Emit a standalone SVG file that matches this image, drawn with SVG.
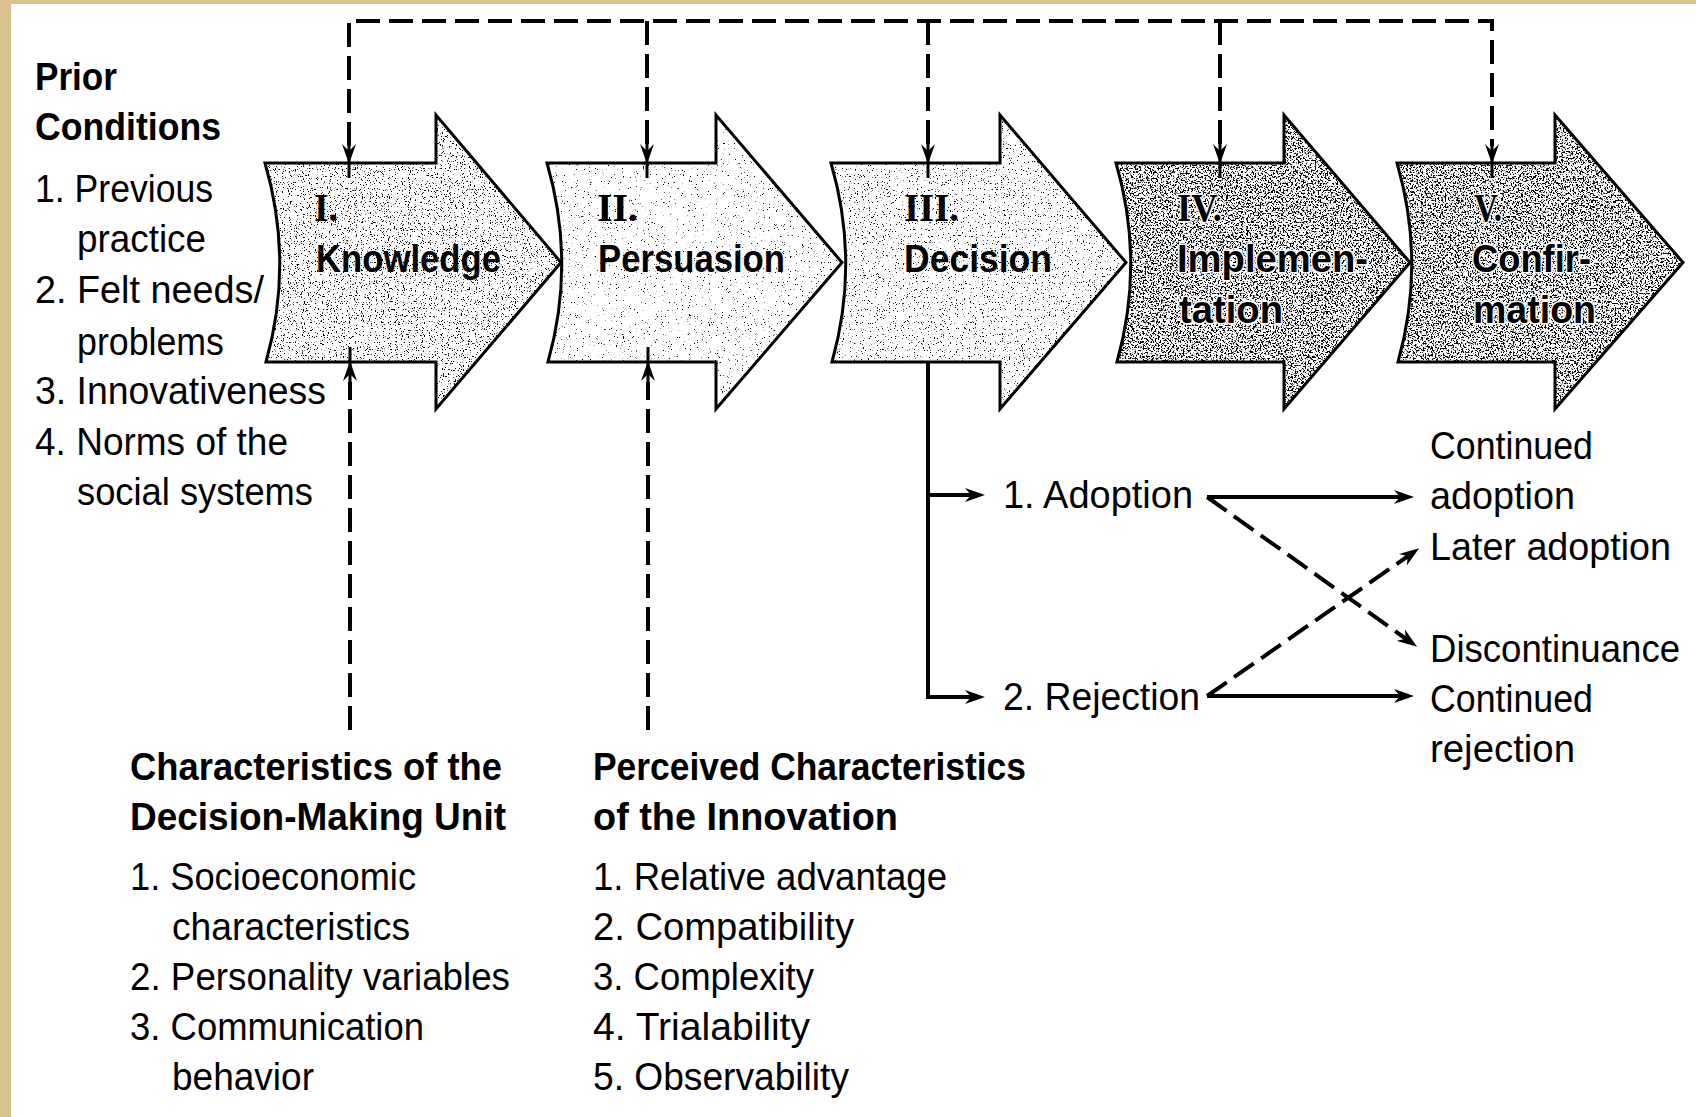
<svg xmlns="http://www.w3.org/2000/svg" xmlns:xlink="http://www.w3.org/1999/xlink" width="1696" height="1117" viewBox="0 0 1696 1117">
  <style>
    .t { font-family: "Liberation Sans", Arial, sans-serif; font-size: 38px; fill: #000; }
    .b { font-family: "Liberation Sans", Arial, sans-serif; font-size: 39px; font-weight: bold; fill: #000; }
    .num { font-family: "Liberation Serif", "Times New Roman", serif; font-size: 40px; font-weight: bold; fill: #000; }
    .halo { stroke: #fff; stroke-width: 3px; paint-order: stroke; stroke-linejoin: round; }
    .outline { fill: none; stroke: #000; stroke-width: 3; stroke-linejoin: miter; }
    .base { fill: #fff; stroke: none; }
    .dash { fill: none; stroke: #000; stroke-width: 4; stroke-dasharray: 24 9; }
    .solid { fill: none; stroke: #000; stroke-width: 4; }
    .stub { fill: none; stroke: #000; stroke-width: 3; }
  </style>
  <defs>
    <!-- barbed arrowhead for horizontal and diagonal connectors -->
    <marker id="head" viewBox="0 0 20 14" refX="10" refY="7" markerWidth="20" markerHeight="14" markerUnits="userSpaceOnUse" orient="auto">
      <path d="M0,0 L20,7 L0,14 L6,7 Z" fill="#000"/>
    </marker>
    <!-- vertical arrowheads, tip at the origin -->
    <path id="headDown" d="M-7,-20 L0,0 L7,-20 L0,-13 Z" fill="#000"/>
    <path id="headUp" d="M-7,20 L0,0 L7,20 L0,13 Z" fill="#000"/>

    <!-- stipple textures for the stage arrows -->
    <filter id="stippleA" color-interpolation-filters="sRGB">
      <feTurbulence type="fractalNoise" baseFrequency="0.85" numOctaves="2" seed="4" result="n"/>
      <feColorMatrix in="n" type="matrix" values="0 0 0 0 0  0 0 0 0 0  0 0 0 0 0  14 0 0 0 -8.7" result="d"/>
      <feComposite in="d" in2="SourceGraphic" operator="in" result="c"/>
      <feMerge><feMergeNode in="SourceGraphic"/><feMergeNode in="c"/></feMerge>
    </filter>
    <filter id="stippleB" color-interpolation-filters="sRGB">
      <feTurbulence type="fractalNoise" baseFrequency="0.85" numOctaves="2" seed="9" result="n"/>
      <feColorMatrix in="n" type="matrix" values="0 0 0 0 0  0 0 0 0 0  0 0 0 0 0  14 0 0 0 -9.7" result="d"/>
      <feComposite in="d" in2="SourceGraphic" operator="in" result="c"/>
      <feMerge><feMergeNode in="SourceGraphic"/><feMergeNode in="c"/></feMerge>
    </filter>
    <filter id="stippleC" color-interpolation-filters="sRGB">
      <feTurbulence type="fractalNoise" baseFrequency="0.85" numOctaves="2" seed="13" result="n"/>
      <feColorMatrix in="n" type="matrix" values="0 0 0 0 0  0 0 0 0 0  0 0 0 0 0  14 0 0 0 -9.2" result="d"/>
      <feComposite in="d" in2="SourceGraphic" operator="in" result="c"/>
      <feMerge><feMergeNode in="SourceGraphic"/><feMergeNode in="c"/></feMerge>
    </filter>
    <filter id="stippleDark" color-interpolation-filters="sRGB">
      <feTurbulence type="fractalNoise" baseFrequency="0.6" numOctaves="2" seed="21" result="n"/>
      <feColorMatrix in="n" type="matrix" values="0 0 0 0 0  0 0 0 0 0  0 0 0 0 0  12 0 0 0 -6.2" result="d"/>
      <feComposite in="d" in2="SourceGraphic" operator="in" result="c"/>
      <feMerge><feMergeNode in="SourceGraphic"/><feMergeNode in="c"/></feMerge>
    </filter>
  </defs>

  <!-- page with tan frame on top and left -->
  <rect x="0" y="0" width="1696" height="1117" fill="#fff"/>
  <rect x="0" y="0" width="1696" height="4" fill="#D9C190"/>
  <rect x="0" y="0" width="11" height="1117" fill="#D9C190"/>

  <!-- prior conditions -->
  <g id="prior-conditions">
    <text class="b" x="35" y="90" textLength="82" lengthAdjust="spacingAndGlyphs">Prior</text>
    <text class="b" x="35" y="140" textLength="186" lengthAdjust="spacingAndGlyphs">Conditions</text>
    <text class="t" x="35" y="202" textLength="178" lengthAdjust="spacingAndGlyphs">1. Previous</text>
    <text class="t" x="77" y="252" textLength="129" lengthAdjust="spacingAndGlyphs">practice</text>
    <text class="t" x="35" y="303" textLength="229" lengthAdjust="spacingAndGlyphs">2. Felt needs/</text>
    <text class="t" x="77" y="355" textLength="147" lengthAdjust="spacingAndGlyphs">problems</text>
    <text class="t" x="35" y="404" textLength="291" lengthAdjust="spacingAndGlyphs">3. Innovativeness</text>
    <text class="t" x="35" y="455" textLength="253" lengthAdjust="spacingAndGlyphs">4. Norms of the</text>
    <text class="t" x="77" y="505" textLength="236" lengthAdjust="spacingAndGlyphs">social systems</text>
  </g>

  <!-- stage I -->
  <g id="stage-knowledge">
    <path class="base" filter="url(#stippleA)" d="M265,163 H436 V115 L561,262.5 L436,409 V362 H266 Q294,262.5 265,163 Z"/>
    <path class="outline" d="M265,163 H436 V115 L561,262.5 L436,409 V362 H266 Q294,262.5 265,163 Z"/>
    <text class="num" x="314" y="221" textLength="24" lengthAdjust="spacingAndGlyphs">I.</text>
    <text class="b" x="316" y="272" textLength="185" lengthAdjust="spacingAndGlyphs">Knowledge</text>
  </g>

  <!-- stage II -->
  <g id="stage-persuasion">
    <path class="base" filter="url(#stippleB)" d="M547,163 H716 V115 L842,262.5 L716,409 V362 H548 Q576,262.5 547,163 Z"/>
    <path class="outline" d="M547,163 H716 V115 L842,262.5 L716,409 V362 H548 Q576,262.5 547,163 Z"/>
    <text class="num" x="597" y="221" textLength="41" lengthAdjust="spacingAndGlyphs">II.</text>
    <text class="b" x="598" y="272" textLength="187" lengthAdjust="spacingAndGlyphs">Persuasion</text>
  </g>

  <!-- stage III -->
  <g id="stage-decision">
    <path class="base" filter="url(#stippleC)" d="M831,163 H1000 V115 L1126,262.5 L1000,409 V362 H832 Q860,262.5 831,163 Z"/>
    <path class="outline" d="M831,163 H1000 V115 L1126,262.5 L1000,409 V362 H832 Q860,262.5 831,163 Z"/>
    <text class="num" x="904" y="221" textLength="55" lengthAdjust="spacingAndGlyphs">III.</text>
    <text class="b" x="904" y="272" textLength="148" lengthAdjust="spacingAndGlyphs">Decision</text>
  </g>

  <!-- stage IV -->
  <g id="stage-implementation">
    <path class="base" filter="url(#stippleDark)" d="M1116,163 H1284 V115 L1410,262.5 L1284,409 V362 H1117 Q1145,262.5 1116,163 Z"/>
    <path class="outline" d="M1116,163 H1284 V115 L1410,262.5 L1284,409 V362 H1117 Q1145,262.5 1116,163 Z"/>
    <text class="num halo" x="1177" y="221" textLength="45" lengthAdjust="spacingAndGlyphs">IV.</text>
    <text class="b halo" x="1177" y="272" textLength="191" lengthAdjust="spacingAndGlyphs">Implemen-</text>
    <text class="b halo" x="1179" y="323" textLength="104" lengthAdjust="spacingAndGlyphs">tation</text>
  </g>

  <!-- stage V -->
  <g id="stage-confirmation">
    <path class="base" filter="url(#stippleDark)" d="M1397,163 H1555 V115 L1683,262.5 L1555,409 V362 H1398 Q1426,262.5 1397,163 Z"/>
    <path class="outline" d="M1397,163 H1555 V115 L1683,262.5 L1555,409 V362 H1398 Q1426,262.5 1397,163 Z"/>
    <text class="num halo" x="1474" y="221" textLength="28" lengthAdjust="spacingAndGlyphs">V.</text>
    <text class="b halo" x="1472" y="272" textLength="119" lengthAdjust="spacingAndGlyphs">Confir-</text>
    <text class="b halo" x="1473" y="323" textLength="123" lengthAdjust="spacingAndGlyphs">mation</text>
  </g>

  <!-- decision outcomes -->
  <g id="adoption">
    <text class="t" x="1003" y="508" textLength="190" lengthAdjust="spacingAndGlyphs">1. Adoption</text>
  </g>
  <g id="rejection">
    <text class="t" x="1003" y="710" textLength="197" lengthAdjust="spacingAndGlyphs">2. Rejection</text>
  </g>

  <!-- later outcomes -->
  <g id="continued-adoption">
    <text class="t" x="1430" y="459" textLength="163" lengthAdjust="spacingAndGlyphs">Continued</text>
    <text class="t" x="1430" y="509" textLength="145" lengthAdjust="spacingAndGlyphs">adoption</text>
  </g>
  <g id="later-adoption">
    <text class="t" x="1430" y="560" textLength="241" lengthAdjust="spacingAndGlyphs">Later adoption</text>
  </g>
  <g id="discontinuance">
    <text class="t" x="1430" y="662" textLength="250" lengthAdjust="spacingAndGlyphs">Discontinuance</text>
  </g>
  <g id="continued-rejection">
    <text class="t" x="1430" y="712" textLength="163" lengthAdjust="spacingAndGlyphs">Continued</text>
    <text class="t" x="1430" y="762" textLength="145" lengthAdjust="spacingAndGlyphs">rejection</text>
  </g>

  <!-- characteristics of the decision-making unit -->
  <g id="decision-unit">
    <text class="b" x="130" y="780" textLength="372" lengthAdjust="spacingAndGlyphs">Characteristics of the</text>
    <text class="b" x="130" y="830" textLength="376" lengthAdjust="spacingAndGlyphs">Decision-Making Unit</text>
    <text class="t" x="130" y="890" textLength="286" lengthAdjust="spacingAndGlyphs">1. Socioeconomic</text>
    <text class="t" x="172" y="940" textLength="238" lengthAdjust="spacingAndGlyphs">characteristics</text>
    <text class="t" x="130" y="990" textLength="380" lengthAdjust="spacingAndGlyphs">2. Personality variables</text>
    <text class="t" x="130" y="1040" textLength="294" lengthAdjust="spacingAndGlyphs">3. Communication</text>
    <text class="t" x="172" y="1090" textLength="142" lengthAdjust="spacingAndGlyphs">behavior</text>
  </g>

  <!-- perceived characteristics of the innovation -->
  <g id="innovation-characteristics">
    <text class="b" x="593" y="780" textLength="433" lengthAdjust="spacingAndGlyphs">Perceived Characteristics</text>
    <text class="b" x="593" y="830" textLength="305" lengthAdjust="spacingAndGlyphs">of the Innovation</text>
    <text class="t" x="593" y="890" textLength="354" lengthAdjust="spacingAndGlyphs">1. Relative advantage</text>
    <text class="t" x="593" y="940" textLength="261" lengthAdjust="spacingAndGlyphs">2. Compatibility</text>
    <text class="t" x="593" y="990" textLength="221" lengthAdjust="spacingAndGlyphs">3. Complexity</text>
    <text class="t" x="593" y="1040" textLength="217" lengthAdjust="spacingAndGlyphs">4. Trialability</text>
    <text class="t" x="593" y="1090" textLength="256" lengthAdjust="spacingAndGlyphs">5. Observability</text>
  </g>

  <!-- connectors -->
  <g id="connectors">
    <!-- prior conditions feed every stage from the top -->
    <path class="dash" d="M349,146 V21 H1492 V146"/>
    <path class="dash" d="M647,21 V146"/>
    <path class="dash" d="M928,21 V146"/>
    <path class="dash" d="M1220,21 V146"/>
    <path class="stub" d="M349,140 V178 M647,140 V178 M928,140 V178 M1220,140 V178 M1492,140 V178"/>
    <use xlink:href="#headDown" x="349" y="164"/>
    <use xlink:href="#headDown" x="647" y="164"/>
    <use xlink:href="#headDown" x="928" y="164"/>
    <use xlink:href="#headDown" x="1220" y="164"/>
    <use xlink:href="#headDown" x="1492" y="164"/>

    <!-- unit and innovation characteristics rise into stages I and II -->
    <path class="dash" d="M350,730 V382"/>
    <path class="dash" d="M648,730 V382"/>
    <path class="stub" d="M350,347 V386 M648,347 V386"/>
    <use xlink:href="#headUp" x="350" y="361"/>
    <use xlink:href="#headUp" x="648" y="361"/>

    <!-- decision branches -->
    <path class="solid" d="M928,362 V697 H975" marker-end="url(#head)"/>
    <path class="solid" d="M928,495 H975" marker-end="url(#head)"/>

    <!-- adoption outcomes -->
    <path class="solid" d="M1207,497 H1404" marker-end="url(#head)"/>
    <path class="dash" d="M1207,497 L1409,641" marker-end="url(#head)"/>
    <!-- rejection outcomes -->
    <path class="solid" d="M1207,696 H1404" marker-end="url(#head)"/>
    <path class="dash" d="M1207,696 L1411,554" marker-end="url(#head)"/>
  </g>
</svg>
